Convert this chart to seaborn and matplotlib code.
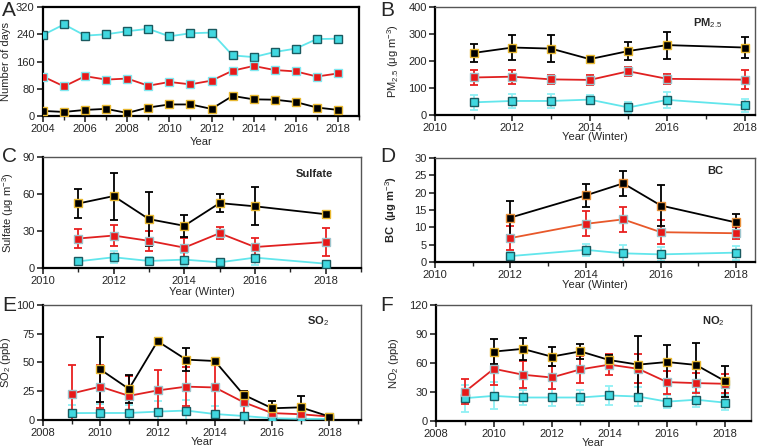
import numpy as np
import pandas as pd
import seaborn as sns
import matplotlib.pyplot as plt
from matplotlib.ticker import MultipleLocator

sns.set_style('ticks')
plt.rcParams['font.family'] = ['Liberation Sans', 'DejaVu Sans']
plt.rcParams['mathtext.fontset'] = 'custom'
plt.rcParams['mathtext.rm'] = 'Liberation Sans'
plt.rcParams['mathtext.bf'] = 'Liberation Sans:bold'
plt.rcParams['mathtext.it'] = 'Liberation Sans:italic'

W, H = 757, 448

# ---- data ----
# A: number of days per year
years_a = list(range(2004, 2019))
days_clean = [238, 269, 236, 240, 249, 256, 234, 243, 245, 178, 173, 188, 198, 226, 227]
days_mid = [116, 87, 117, 107, 110, 89, 100, 93, 104, 133, 147, 135, 131, 116, 125]
days_heavy = [15, 12, 18, 21, 9, 25, 34, 34, 21, 59, 49, 48, 41, 25, 18]

# B: PM2.5 winter
years_b = [2011, 2012, 2013, 2014, 2015, 2016, 2018]
pm_heavy = [230, 250, 246, 207, 237, 259, 250]
pm_heavy_err = [34, 48, 49, 6, 33, 50, 38]
pm_mid = [139, 142, 132, 130, 162, 134, 131]
pm_mid_err = [26, 26, 16, 19, 16, 18, 34]
pm_clean = [47, 52, 52, 57, 28, 56, 36]
pm_clean_err = [27, 27, 26, 17, 22, 31, 24]

# C: sulfate winter
years_c = [2011, 2012, 2013, 2014, 2015, 2016, 2018]
so4_heavy = [52.3, 58.3, 39.6, 34.2, 52.6, 50.0, 43.6]
so4_heavy_err = [12, 19, 22, 9, 7.5, 15.5, 3]
so4_mid = [23.9, 26.3, 22.0, 16.5, 28.2, 17.0, 21.0]
so4_mid_err = [8, 8.5, 8, 8, 5, 7, 11.5]
so4_clean = [5.4, 8.7, 5.7, 6.8, 4.6, 8.4, 3.5]
so4_clean_err = [3, 5, 3, 5, 3, 6, 2]

# D: BC winter
years_d = [2012, 2014, 2015, 2016, 2018]
bc_heavy = [12.8, 19.2, 22.7, 16.3, 11.4]
bc_heavy_err = [4.9, 3.2, 3.7, 6.0, 2.5]
bc_mid = [6.9, 11.0, 12.3, 8.6, 8.3]
bc_mid_err = [3.4, 3.6, 3.5, 3.4, 1.8]
bc_clean = [1.7, 3.5, 2.5, 2.2, 2.7]
bc_clean_err = [1.2, 1.8, 2.5, 2.0, 2.0]

# E: SO2
years_e = list(range(2009, 2019))
years_e_heavy = list(range(2010, 2019))
so2_heavy = [44, 27, 68.5, 52.5, 51.3, 22, 10.2, 11, 3]
so2_heavy_err = [28, 12.5, 3, 10, 1, 3, 6, 9.5, 1]
so2_mid = [23, 29, 21, 25.7, 29, 28.3, 15.5, 6, 5, 3]
so2_mid_err = [25, 18.5, 17.5, 18, 17, 22, 10, 3, 3, 1]
so2_clean = [6, 6.1, 6.1, 7.3, 8.2, 5.2, 3.5, 1.5, 1, 1]
so2_clean_err = [7, 8, 7, 9, 9, 7, 3, 2, 1, 1]

# F: NO2
years_f = list(range(2009, 2019))
years_f_heavy = list(range(2010, 2019))
no2_heavy = [71.8, 74.6, 66.6, 72, 63, 58.3, 61, 58, 41.3]
no2_heavy_err = [13, 11, 9.5, 8, 5, 30, 18, 23, 16]
no2_mid = [30.2, 54, 47.9, 45, 53.4, 58.3, 54, 40.2, 39.2, 38.5]
no2_mid_err = [13, 17, 14, 11.5, 14, 11, 15, 12, 10, 10]
no2_clean = [23.6, 26, 24.3, 24.3, 24.3, 26.4, 25.3, 20, 22, 19]
no2_clean_err = [14, 14, 8, 9, 8, 10, 10, 7, 8, 8]

# ---- styles ----
STYLE = {
    'heavy': dict(line='#000000', face='#000000', edge='#e8b830', err='#000000'),
    'mid': dict(line='#e02020', face='#e81818', edge='#9cc4cc', err='#e82020'),
    'clean': dict(line='#62e6ec', face='#40d8e0', edge='#1a5a60', err='#90f0f4'),
}


def draw_series(ax, x, y, kind, err=None, line_color=None, edge=None):
    st = STYLE[kind]
    lc = line_color or st['line']
    if err is not None:
        ax.errorbar(x, y, yerr=err, fmt='none', ecolor=st['err'],
                    elinewidth=1.3, capsize=3, capthick=1.3, zorder=2)
    df = pd.DataFrame({'x': x, 'y': y})
    sns.lineplot(data=df, x='x', y='y', ax=ax, color=lc, linewidth=1.3,
                 marker='s', markersize=6, markerfacecolor=st['face'],
                 markeredgecolor=edge or st['edge'], markeredgewidth=1.0,
                 zorder=3)


def style_axes(ax, box, xlim, ylim, ystep, xlabel, ylabel, xl_off, yl_off,
               title=None, tpos=None, ylabel_bold=False):
    ax.set_xlim(*xlim)
    ax.set_ylim(*ylim)
    ax.xaxis.set_major_locator(MultipleLocator(2))
    ax.xaxis.set_minor_locator(MultipleLocator(1))
    ax.yaxis.set_major_locator(MultipleLocator(ystep))
    ax.tick_params(axis='both', which='major', direction='out', length=4,
                   width=1.2, labelsize=8, pad=2)
    ax.tick_params(axis='x', which='minor', direction='out', length=3, width=1.0)
    ax.set_xlabel(xlabel, fontsize=8)
    ax.set_ylabel(ylabel, fontsize=8,
                  fontweight='bold' if ylabel_bold else 'normal')
    # label positions given as pixel offsets from the axes edges
    wpx, hpx = box[2] * W, box[3] * H
    ax.xaxis.set_label_coords(0.5, -xl_off / hpx)
    ax.yaxis.set_label_coords(-yl_off / wpx, 0.5)
    for side in ['left', 'bottom']:
        ax.spines[side].set_linewidth(1.6)
        ax.spines[side].set_color('black')
    for side in ['top', 'right']:
        ax.spines[side].set_linewidth(1.0)
        ax.spines[side].set_color('#555555')
    if title:
        ax.text(tpos[0], tpos[1], title, transform=ax.transAxes, ha='center',
                va='center', fontsize=8, fontweight='bold')


fig = plt.figure(figsize=(W / 100, H / 100), dpi=100)

boxA = [0.0568, 0.741, 0.4174, 0.2433]
boxB = [0.5746, 0.7433, 0.4227, 0.241]
boxC = [0.0568, 0.4018, 0.420, 0.2478]
boxD = [0.5746, 0.4152, 0.4227, 0.232]
boxE = [0.0568, 0.0625, 0.420, 0.2567]
boxF = [0.576, 0.0603, 0.416, 0.2589]
axA, axB, axC, axD, axE, axF = [fig.add_axes(b) for b in
                                [boxA, boxB, boxC, boxD, boxE, boxF]]

# A
draw_series(axA, years_a, days_clean, 'clean')
draw_series(axA, years_a, days_mid, 'mid', edge='#80e8f0')
draw_series(axA, years_a, days_heavy, 'heavy')
style_axes(axA, boxA, (2004, 2019), (0, 320), 80, 'Year', 'Number of days',
           21, 32)
for side in ['top', 'right']:
    axA.spines[side].set_linewidth(1.6)
    axA.spines[side].set_color('black')

# B
draw_series(axB, years_b, pm_clean, 'clean', pm_clean_err)
draw_series(axB, years_b, pm_mid, 'mid', pm_mid_err)
draw_series(axB, years_b, pm_heavy, 'heavy', pm_heavy_err)
style_axes(axB, boxB, (2010, 2018.27), (0, 400), 100, 'Year (Winter)',
           'PM$_{2.5}$ (μg m$^{-3}$)', 17, 34, 'PM$_{2.5}$', (0.853, 0.85))

# C
draw_series(axC, years_c, so4_clean, 'clean', so4_clean_err)
draw_series(axC, years_c, so4_mid, 'mid', so4_mid_err)
draw_series(axC, years_c, so4_heavy, 'heavy', so4_heavy_err)
style_axes(axC, boxC, (2010, 2019), (0, 90), 30, 'Year (Winter)',
           'Sulfate (μg m$^{-3}$)', 19, 27, 'Sulfate', (0.855, 0.847))

# D
draw_series(axD, years_d, bc_clean, 'clean', bc_clean_err)
draw_series(axD, years_d, bc_mid, 'mid', bc_mid_err, line_color='#e8582a')
draw_series(axD, years_d, bc_heavy, 'heavy', bc_heavy_err, edge='#e8903a')
style_axes(axD, boxD, (2010, 2018.5), (0, 30), 5, 'Year (Winter)',
           'BC  (μg m$^{-3}$)', 18, 36, 'BC', (0.875, 0.875), ylabel_bold=True)

# E
draw_series(axE, years_e, so2_clean, 'clean', so2_clean_err)
draw_series(axE, years_e, so2_mid, 'mid', so2_mid_err)
draw_series(axE, years_e_heavy, so2_heavy, 'heavy', so2_heavy_err)
style_axes(axE, boxE, (2008, 2019.1), (0, 100), 25, 'Year',
           'SO$_2$ (ppb)', 17, 30, 'SO$_2$', (0.865, 0.86))

# F
draw_series(axF, years_f, no2_clean, 'clean', no2_clean_err)
draw_series(axF, years_f, no2_mid, 'mid', no2_mid_err)
draw_series(axF, years_f_heavy, no2_heavy, 'heavy', no2_heavy_err)
style_axes(axF, boxF, (2008, 2018.9), (0, 120), 30, 'Year',
           'NO$_2$ (ppb)', 17, 35, 'NO$_2$', (0.88, 0.86))

# panel letters
for letter, (px, py) in zip('ABCDEF', [(2, 1), (380, 1), (2, 147), (380, 147),
                                       (2, 296), (380, 296)]):
    fig.text(px / W, 1 - py / H, letter, fontsize=15, ha='left', va='top')

fig.savefig('out.png', dpi=100)
